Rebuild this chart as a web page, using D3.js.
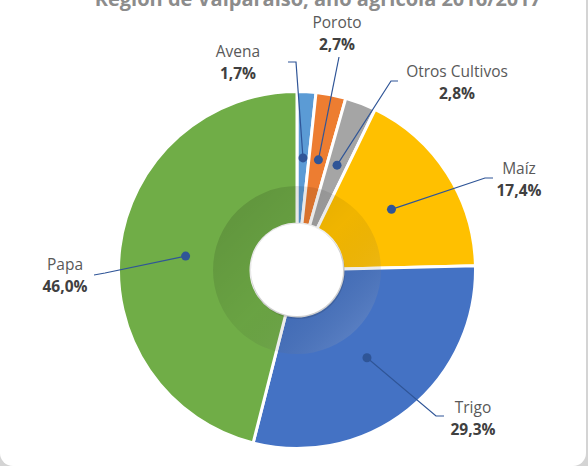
<!DOCTYPE html>
<html>
<head>
<meta charset="utf-8">
<script src="https://cdn.jsdelivr.net/npm/d3@7"></script>
<style>
  body { margin: 0; background: #d4d4d4; }
  svg { display: block; }
</style>
</head>
<body>
<div id="chart"></div>
<script>
var crops = ["Avena", "Poroto", "Otros Cultivos", "Maíz", "Trigo", "Papa"];
var shares = [1.7, 2.7, 2.8, 17.4, 29.3, 46.0];
var colors = ["#5B9BD5", "#ED7D31", "#A5A5A5", "#FFC000", "#4472C4", "#70AD47"];
var title = "Región de Valparaíso, año agrícola 2016/2017";

// label placement: text centre, elbow point, end of leader
var labelPos = [
  { x: 238, y: 57, elbow: [296, 62], end: [288, 62] },
  { x: 337, y: 28, elbow: [339, 57], end: [339, 57] },
  { x: 457, y: 77, elbow: [391, 81], end: [398, 81] },
  { x: 519, y: 174, elbow: [485, 178], end: [493, 178] },
  { x: 473, y: 413, elbow: [436, 416], end: [444, 416] },
  { x: 65, y: 270, elbow: [105, 273], end: [94, 275] }
];

var width = 588,
  height = 466;

var cx = 297, cy = 270;
var outerR = 178.5, innerR = 46, ringR = 84;

var svg = d3.select("#chart")
  .append("svg")
  .attr("width", width)
  .attr("height", height);

var defs = svg.append("defs");
var grad = defs.append("linearGradient")
  .attr("id", "ringGrad")
  .attr("x1", 0).attr("y1", 0).attr("x2", 1).attr("y2", 1);
grad.append("stop").attr("offset", "0%").attr("stop-color", "#000").attr("stop-opacity", 0.16);
grad.append("stop").attr("offset", "50%").attr("stop-color", "#000").attr("stop-opacity", 0.06);
grad.append("stop").attr("offset", "100%").attr("stop-color", "#fff").attr("stop-opacity", 0.22);

// panel
svg.append("rect")
  .attr("x", 0)
  .attr("y", -20)
  .attr("width", 586)
  .attr("height", 486)
  .attr("rx", 13)
  .attr("fill", "#fff");

// title is clipped by the top edge, as in the original
svg.append("text")
  .attr("x", 318)
  .attr("y", 6)
  .attr("text-anchor", "middle")
  .style("font-family", "'Open Sans', sans-serif")
  .style("font-weight", "bold")
  .style("font-size", "20px")
  .style("fill", "#8c8c8c")
  .text(title);

var data = crops.map(function (c, i) {
  return { name: c, value: shares[i], color: colors[i], pos: labelPos[i] };
});

var pie = d3.pie()
  .sort(null)
  .value(function (d) { return d.value; });

var arc = d3.arc().innerRadius(innerR).outerRadius(outerR);

var g = svg.append("g")
  .attr("transform", "translate(" + cx + "," + cy + ")");

var arcs = pie(data);

g.selectAll("path.slice")
  .data(arcs)
  .enter().append("path")
  .attr("class", "slice")
  .attr("d", arc)
  .attr("fill", function (d) { return d.data.color; })
  .attr("stroke", "#fff")
  .attr("stroke-width", 3);

// inner bevel ring
g.append("path")
  .attr("d", d3.arc().innerRadius(innerR).outerRadius(ringR).startAngle(0).endAngle(2 * Math.PI)())
  .attr("fill", "url(#ringGrad)");

// hole with a faint shadow
g.append("circle")
  .attr("cx", 1).attr("cy", 2)
  .attr("r", innerR + 1)
  .attr("fill", "rgba(0,0,0,0.12)");
g.append("circle")
  .attr("r", innerR)
  .attr("fill", "#fff");

// leaders
var lineColor = "#2F5597";
var labels = svg.append("g");

arcs.forEach(function (d) {
  var c = arc.centroid(d);
  var p = d.data.pos;
  var dot = [cx + c[0], cy + c[1]];
  labels.append("polyline")
    .attr("points", [dot, p.elbow, p.end].map(function (q) { return q.join(","); }).join(" "))
    .attr("fill", "none")
    .attr("stroke", lineColor)
    .attr("stroke-width", 1.2);
  labels.append("circle")
    .attr("cx", dot[0]).attr("cy", dot[1])
    .attr("r", 4.5)
    .attr("fill", lineColor);
  labels.append("text")
    .attr("x", p.x).attr("y", p.y)
    .attr("text-anchor", "middle")
    .style("font-family", "'Open Sans', sans-serif")
    .style("font-size", "15.5px")
    .style("fill", "#595959")
    .text(d.data.name);
  labels.append("text")
    .attr("x", p.x).attr("y", p.y + 22)
    .attr("text-anchor", "middle")
    .style("font-family", "'Open Sans', sans-serif")
    .style("font-size", "15.5px")
    .style("font-weight", "bold")
    .style("fill", "#404040")
    .text(d3.format(".1f")(d.data.value).replace(".", ",") + "%");
});
</script>
</body>
</html>
